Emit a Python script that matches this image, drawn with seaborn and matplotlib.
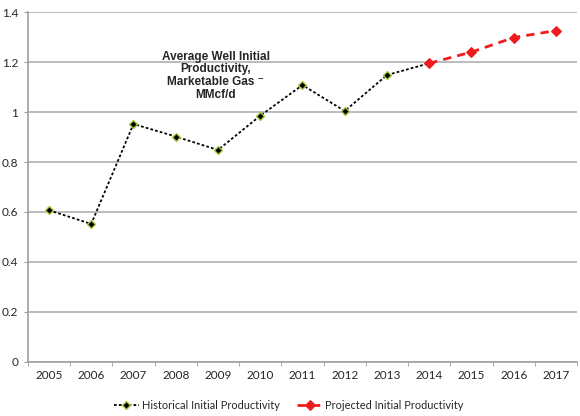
import numpy as np
import pandas as pd
import seaborn as sns
import matplotlib.pyplot as plt

# data
years = ['2005', '2006', '2007', '2008', '2009', '2010', '2011', '2012', '2013', '2014', '2015', '2016', '2017']
hist_years = years[:10]
hist_vals = [0.607, 0.552, 0.952, 0.902, 0.848, 0.985, 1.108, 1.004, 1.148, 1.195]
proj_years = years[9:]
proj_vals = [1.195, 1.240, 1.298, 1.326]

hist = pd.DataFrame({'x': [years.index(y) for y in hist_years], 'val': hist_vals})
proj = pd.DataFrame({'x': [years.index(y) for y in proj_years], 'val': proj_vals})

sns.set_style('white')
plt.rcParams['font.family'] = ['Lato', 'DejaVu Sans']

fig = plt.figure(figsize=(5.8, 4.16), dpi=100)
ax = fig.add_axes([0.048, 0.13, 0.947, 0.841])

sns.lineplot(data=hist, x='x', y='val', ax=ax, color='black', linestyle=(0, (1.5, 1.2)),
             linewidth=1.3, marker='D', markersize=4, markerfacecolor='black',
             markeredgecolor='#a4c93c', markeredgewidth=1.0, label='Historical Initial Productivity')
sns.lineplot(data=proj, x='x', y='val', ax=ax, color='#ee1c1c', linestyle=(0, (3, 2.2)),
             linewidth=2.0, marker='D', markersize=5, markerfacecolor='#ee1c1c',
             markeredgecolor='#ee1c1c', label='Projected Initial Productivity')

ax.set_xlim(-0.5, len(years) - 0.5)
ax.set_ylim(0, 1.4)
ax.set_xticks(range(len(years)))
ax.set_xticklabels(years)
ax.set_xticks(np.arange(-0.5, len(years), 1), minor=True)
ax.set_yticks(np.arange(0, 1.41, 0.2))
ax.set_yticklabels(['0', '0.2', '0.4', '0.6', '0.8', '1', '1.2', '1.4'])
ax.set_xlabel('')
ax.set_ylabel('')

ax.yaxis.grid(True, color='#b0b0b0', linewidth=1.2)
ax.set_axisbelow(True)
for s in ['top', 'right']:
    ax.spines[s].set_visible(False)
for s in ['left', 'bottom']:
    ax.spines[s].set_color('#a0a0a0')
    ax.spines[s].set_linewidth(1.2)

ax.tick_params(axis='x', which='major', length=0, labelsize=8.5, pad=6)
ax.tick_params(axis='x', which='minor', length=3, color='#a0a0a0', bottom=True)
ax.tick_params(axis='y', length=3, color='#a0a0a0', left=True, labelsize=8.5, pad=4)

ax.text(3.95, 1.145, 'Average Well Initial\nProductivity,\nMarketable Gas \u207b\nMMcf/d',
        ha='center', va='center', fontsize=8.5, fontweight='bold', linespacing=1.08,
        multialignment='center', family=['Liberation Sans', 'DejaVu Sans'])

ax.legend(loc='center left', bbox_to_anchor=(0.179, 0.025), bbox_transform=fig.transFigure,
          ncol=2, frameon=False, fontsize=7.9, handlelength=2.3, handletextpad=0.25,
          columnspacing=1.6)

fig.savefig('out.png', dpi=100)
